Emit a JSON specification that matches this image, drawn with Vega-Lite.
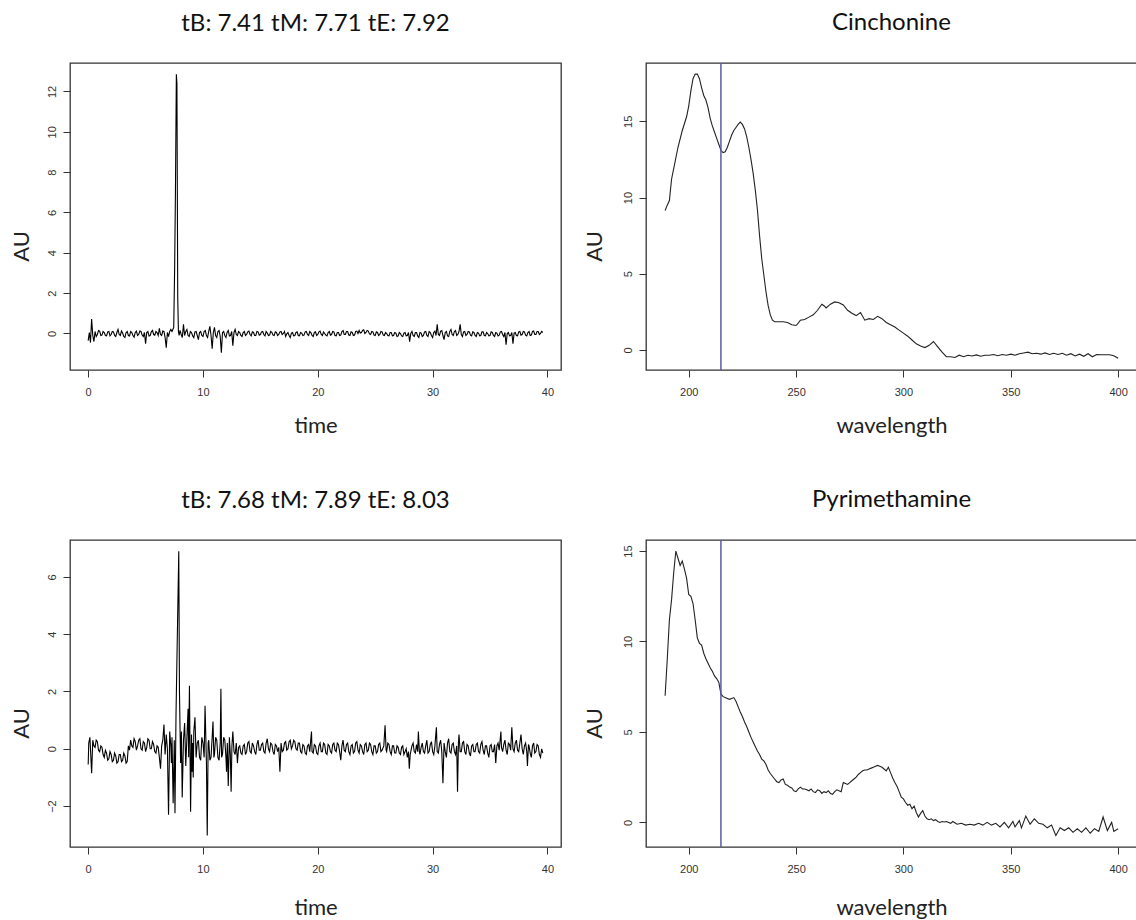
{
  "$schema": "https://vega.github.io/schema/vega-lite/v6.json",
  "background": "white",
  "padding": {"left": 9, "top": 10, "right": 0, "bottom": 0},
  "columns": 2,
  "spacing": {"row": 170, "column": 85},
  "bounds": "flush",
  "datasets": {
    "chromA": [
      {"t":0.0,"au":-0.35},{"t":0.1,"au":0.05},{"t":0.2,"au":-0.45},{"t":0.3,"au":0.72},{"t":0.4,"au":-0.1},{"t":0.5,"au":-0.4},{"t":0.6,"au":0.1},{"t":0.7,"au":-0.15},{"t":0.8,"au":-0.05},{"t":0.9,"au":0.15},{"t":1.0,"au":0.12},{"t":1.1,"au":-0.1},{"t":1.2,"au":-0.08},{"t":1.3,"au":0.1},{"t":1.4,"au":0.05},{"t":1.5,"au":-0.1},{"t":1.6,"au":-0.12},{"t":1.7,"au":0.08},{"t":1.8,"au":0.1},{"t":1.9,"au":-0.12},{"t":2.0,"au":-0.05},{"t":2.1,"au":0.1},{"t":2.2,"au":0.08},{"t":2.3,"au":-0.1},{"t":2.4,"au":-0.15},{"t":2.5,"au":0.05},{"t":2.6,"au":0.2},{"t":2.7,"au":-0.05},{"t":2.8,"au":-0.1},{"t":2.9,"au":0.12},{"t":3.0,"au":0.02},{"t":3.1,"au":-0.15},{"t":3.2,"au":-0.2},{"t":3.3,"au":0.05},{"t":3.4,"au":0.1},{"t":3.5,"au":-0.1},{"t":3.6,"au":-0.12},{"t":3.7,"au":0.1},{"t":3.8,"au":0.05},{"t":3.9,"au":-0.1},{"t":4.0,"au":-0.18},{"t":4.1,"au":0.05},{"t":4.2,"au":0.12},{"t":4.3,"au":-0.1},{"t":4.4,"au":-0.05},{"t":4.5,"au":0.12},{"t":4.6,"au":0.1},{"t":4.7,"au":-0.08},{"t":4.8,"au":-0.15},{"t":4.9,"au":0.05},{"t":5.0,"au":-0.5},{"t":5.1,"au":0.05},{"t":5.2,"au":0.1},{"t":5.3,"au":-0.12},{"t":5.4,"au":-0.1},{"t":5.5,"au":0.08},{"t":5.6,"au":0.15},{"t":5.7,"au":-0.05},{"t":5.8,"au":-0.08},{"t":5.9,"au":0.1},{"t":6.0,"au":0.05},{"t":6.1,"au":-0.1},{"t":6.2,"au":0.25},{"t":6.3,"au":-0.05},{"t":6.4,"au":-0.1},{"t":6.5,"au":0.12},{"t":6.6,"au":0.1},{"t":6.7,"au":-0.2},{"t":6.8,"au":-0.7},{"t":6.9,"au":0.05},{"t":7.0,"au":-0.15},{"t":7.1,"au":0.1},{"t":7.2,"au":0.2},{"t":7.3,"au":0.1},{"t":7.41,"au":0.25},{"t":7.45,"au":0.3},{"t":7.53,"au":3.2},{"t":7.6,"au":7.0},{"t":7.68,"au":12.85},{"t":7.73,"au":12.4},{"t":7.8,"au":1.8},{"t":7.86,"au":0.1},{"t":7.92,"au":-0.1},{"t":8.0,"au":0.15},{"t":8.1,"au":-0.05},{"t":8.2,"au":-0.2},{"t":8.3,"au":0.45},{"t":8.4,"au":-0.1},{"t":8.5,"au":0.1},{"t":8.6,"au":0.2},{"t":8.7,"au":-0.1},{"t":8.8,"au":-0.15},{"t":8.9,"au":0.1},{"t":9.0,"au":0.05},{"t":9.1,"au":-0.12},{"t":9.2,"au":-0.2},{"t":9.3,"au":0.08},{"t":9.4,"au":0.1},{"t":9.5,"au":-0.1},{"t":9.6,"au":-0.3},{"t":9.7,"au":0.05},{"t":9.8,"au":0.1},{"t":9.9,"au":-0.1},{"t":10.0,"au":-0.15},{"t":10.1,"au":0.1},{"t":10.2,"au":0.15},{"t":10.3,"au":-0.1},{"t":10.4,"au":-0.2},{"t":10.5,"au":0.1},{"t":10.6,"au":0.35},{"t":10.7,"au":-0.1},{"t":10.8,"au":-0.75},{"t":10.9,"au":0.05},{"t":11.0,"au":0.3},{"t":11.1,"au":-0.1},{"t":11.2,"au":-0.2},{"t":11.3,"au":0.1},{"t":11.4,"au":0.15},{"t":11.5,"au":-0.15},{"t":11.6,"au":-0.95},{"t":11.7,"au":0.05},{"t":11.8,"au":0.1},{"t":11.9,"au":-0.1},{"t":12.0,"au":-0.2},{"t":12.1,"au":0.05},{"t":12.2,"au":0.15},{"t":12.3,"au":-0.12},{"t":12.4,"au":-0.1},{"t":12.5,"au":0.1},{"t":12.6,"au":-0.6},{"t":12.7,"au":0.05},{"t":12.8,"au":0.2},{"t":12.9,"au":-0.05},{"t":13.0,"au":-0.1},{"t":13.1,"au":0.1},{"t":13.2,"au":0.05},{"t":13.3,"au":-0.1},{"t":13.4,"au":-0.15},{"t":13.5,"au":0.05},{"t":13.6,"au":0.1},{"t":13.7,"au":-0.1},{"t":13.8,"au":-0.05},{"t":13.9,"au":0.08},{"t":14.0,"au":0.12},{"t":14.1,"au":-0.05},{"t":14.2,"au":-0.12},{"t":14.3,"au":0.08},{"t":14.4,"au":0.05},{"t":14.5,"au":-0.1},{"t":14.6,"au":-0.1},{"t":14.7,"au":0.1},{"t":14.8,"au":0.08},{"t":14.9,"au":-0.08},{"t":15.0,"au":-0.05},{"t":15.1,"au":0.08},{"t":15.2,"au":0.1},{"t":15.3,"au":-0.05},{"t":15.4,"au":-0.12},{"t":15.5,"au":0.1},{"t":15.6,"au":0.02},{"t":15.7,"au":-0.1},{"t":15.8,"au":-0.08},{"t":15.9,"au":0.1},{"t":16.0,"au":0.06},{"t":16.1,"au":-0.08},{"t":16.2,"au":-0.1},{"t":16.3,"au":0.08},{"t":16.4,"au":0.05},{"t":16.5,"au":-0.1},{"t":16.6,"au":-0.05},{"t":16.7,"au":0.08},{"t":16.8,"au":0.1},{"t":16.9,"au":-0.05},{"t":17.0,"au":0.0},{"t":17.1,"au":0.1},{"t":17.2,"au":-0.15},{"t":17.3,"au":-0.02},{"t":17.4,"au":0.05},{"t":17.5,"au":-0.1},{"t":17.6,"au":-0.2},{"t":17.7,"au":0.02},{"t":17.8,"au":0.05},{"t":17.9,"au":-0.12},{"t":18.0,"au":-0.1},{"t":18.1,"au":0.05},{"t":18.2,"au":0.08},{"t":18.3,"au":-0.1},{"t":18.4,"au":-0.12},{"t":18.5,"au":0.05},{"t":18.6,"au":0.02},{"t":18.7,"au":-0.1},{"t":18.8,"au":-0.08},{"t":18.9,"au":0.08},{"t":19.0,"au":0.1},{"t":19.1,"au":-0.05},{"t":19.2,"au":-0.1},{"t":19.3,"au":0.1},{"t":19.4,"au":0.05},{"t":19.5,"au":-0.1},{"t":19.6,"au":-0.15},{"t":19.7,"au":0.05},{"t":19.8,"au":0.08},{"t":19.9,"au":-0.1},{"t":20.0,"au":-0.05},{"t":20.1,"au":0.08},{"t":20.2,"au":0.12},{"t":20.3,"au":-0.05},{"t":20.4,"au":-0.1},{"t":20.5,"au":0.08},{"t":20.6,"au":0.0},{"t":20.7,"au":-0.08},{"t":20.8,"au":-0.12},{"t":20.9,"au":0.05},{"t":21.0,"au":0.1},{"t":21.1,"au":-0.08},{"t":21.2,"au":-0.05},{"t":21.3,"au":0.1},{"t":21.4,"au":0.08},{"t":21.5,"au":-0.1},{"t":21.6,"au":-0.12},{"t":21.7,"au":0.05},{"t":21.8,"au":0.05},{"t":21.9,"au":-0.1},{"t":22.0,"au":-0.08},{"t":22.1,"au":0.1},{"t":22.2,"au":0.15},{"t":22.3,"au":-0.05},{"t":22.4,"au":-0.05},{"t":22.5,"au":0.1},{"t":22.6,"au":0.1},{"t":22.7,"au":-0.08},{"t":22.8,"au":-0.1},{"t":22.9,"au":0.08},{"t":23.0,"au":0.05},{"t":23.1,"au":-0.1},{"t":23.2,"au":-0.08},{"t":23.3,"au":0.1},{"t":23.4,"au":0.12},{"t":23.5,"au":0.0},{"t":23.6,"au":0.15},{"t":23.7,"au":0.02},{"t":23.8,"au":0.05},{"t":23.9,"au":0.15},{"t":24.0,"au":0.18},{"t":24.1,"au":0.0},{"t":24.2,"au":0.05},{"t":24.3,"au":0.15},{"t":24.4,"au":0.12},{"t":24.5,"au":-0.02},{"t":24.6,"au":-0.05},{"t":24.7,"au":0.1},{"t":24.8,"au":0.08},{"t":24.9,"au":-0.08},{"t":25.0,"au":-0.1},{"t":25.1,"au":0.08},{"t":25.2,"au":0.05},{"t":25.3,"au":-0.1},{"t":25.4,"au":-0.05},{"t":25.5,"au":0.1},{"t":25.6,"au":0.08},{"t":25.7,"au":-0.08},{"t":25.8,"au":-0.1},{"t":25.9,"au":0.05},{"t":26.0,"au":0.0},{"t":26.1,"au":-0.1},{"t":26.2,"au":-0.12},{"t":26.3,"au":0.05},{"t":26.4,"au":0.05},{"t":26.5,"au":-0.12},{"t":26.6,"au":-0.1},{"t":26.7,"au":0.05},{"t":26.8,"au":0.02},{"t":26.9,"au":-0.15},{"t":27.0,"au":-0.12},{"t":27.1,"au":0.05},{"t":27.2,"au":0.0},{"t":27.3,"au":-0.12},{"t":27.4,"au":-0.15},{"t":27.5,"au":0.02},{"t":27.6,"au":0.05},{"t":27.7,"au":-0.12},{"t":27.8,"au":-0.1},{"t":27.9,"au":0.05},{"t":28.0,"au":-0.4},{"t":28.1,"au":0.0},{"t":28.2,"au":0.1},{"t":28.3,"au":-0.1},{"t":28.4,"au":-0.15},{"t":28.5,"au":0.05},{"t":28.6,"au":0.05},{"t":28.7,"au":-0.12},{"t":28.8,"au":-0.2},{"t":28.9,"au":0.05},{"t":29.0,"au":0.02},{"t":29.1,"au":-0.15},{"t":29.2,"au":-0.1},{"t":29.3,"au":0.08},{"t":29.4,"au":0.1},{"t":29.5,"au":-0.1},{"t":29.6,"au":-0.15},{"t":29.7,"au":0.1},{"t":29.8,"au":0.05},{"t":29.9,"au":-0.1},{"t":30.0,"au":-0.2},{"t":30.1,"au":0.05},{"t":30.2,"au":0.12},{"t":30.3,"au":-0.1},{"t":30.4,"au":0.45},{"t":30.5,"au":-0.05},{"t":30.6,"au":-0.1},{"t":30.7,"au":0.12},{"t":30.8,"au":0.15},{"t":30.9,"au":-0.1},{"t":31.0,"au":-0.3},{"t":31.1,"au":0.05},{"t":31.2,"au":0.1},{"t":31.3,"au":-0.12},{"t":31.4,"au":-0.15},{"t":31.5,"au":0.1},{"t":31.6,"au":0.2},{"t":31.7,"au":-0.05},{"t":31.8,"au":-0.1},{"t":31.9,"au":0.1},{"t":32.0,"au":0.15},{"t":32.1,"au":-0.1},{"t":32.2,"au":-0.05},{"t":32.3,"au":0.1},{"t":32.4,"au":0.45},{"t":32.5,"au":-0.05},{"t":32.6,"au":-0.15},{"t":32.7,"au":0.08},{"t":32.8,"au":0.1},{"t":32.9,"au":-0.1},{"t":33.0,"au":-0.05},{"t":33.1,"au":0.1},{"t":33.2,"au":0.08},{"t":33.3,"au":-0.08},{"t":33.4,"au":-0.12},{"t":33.5,"au":0.08},{"t":33.6,"au":0.05},{"t":33.7,"au":-0.1},{"t":33.8,"au":-0.15},{"t":33.9,"au":0.05},{"t":34.0,"au":0.02},{"t":34.1,"au":-0.12},{"t":34.2,"au":-0.1},{"t":34.3,"au":0.08},{"t":34.4,"au":0.08},{"t":34.5,"au":-0.1},{"t":34.6,"au":-0.12},{"t":34.7,"au":0.05},{"t":34.8,"au":0.0},{"t":34.9,"au":-0.12},{"t":35.0,"au":-0.1},{"t":35.1,"au":0.08},{"t":35.2,"au":0.05},{"t":35.3,"au":-0.1},{"t":35.4,"au":-0.15},{"t":35.5,"au":0.05},{"t":35.6,"au":0.02},{"t":35.7,"au":-0.12},{"t":35.8,"au":-0.08},{"t":35.9,"au":0.08},{"t":36.0,"au":0.1},{"t":36.1,"au":-0.05},{"t":36.2,"au":-0.15},{"t":36.3,"au":0.05},{"t":36.4,"au":-0.55},{"t":36.5,"au":0.0},{"t":36.6,"au":0.05},{"t":36.7,"au":-0.12},{"t":36.8,"au":-0.1},{"t":36.9,"au":0.05},{"t":37.0,"au":-0.5},{"t":37.1,"au":0.02},{"t":37.2,"au":0.05},{"t":37.3,"au":-0.1},{"t":37.4,"au":-0.12},{"t":37.5,"au":0.08},{"t":37.6,"au":0.1},{"t":37.7,"au":-0.08},{"t":37.8,"au":-0.05},{"t":37.9,"au":0.1},{"t":38.0,"au":0.08},{"t":38.1,"au":-0.08},{"t":38.2,"au":-0.12},{"t":38.3,"au":0.05},{"t":38.4,"au":0.1},{"t":38.5,"au":-0.1},{"t":38.6,"au":-0.08},{"t":38.7,"au":0.1},{"t":38.8,"au":0.12},{"t":38.9,"au":-0.05},{"t":39.0,"au":-0.05},{"t":39.1,"au":0.1},{"t":39.2,"au":0.1},{"t":39.3,"au":-0.05},{"t":39.4,"au":0.0},{"t":39.5,"au":0.1},{"t":39.6,"au":0.05}
    ],
    "chromB": [
      {"t":0.0,"au":-0.55},{"t":0.05,"au":0.2},{"t":0.15,"au":0.4},{"t":0.3,"au":-0.85},{"t":0.4,"au":0.3},{"t":0.5,"au":0.1},{"t":0.6,"au":0.05},{"t":0.7,"au":0.3},{"t":0.8,"au":0.25},{"t":0.9,"au":-0.05},{"t":1.0,"au":-0.1},{"t":1.1,"au":0.1},{"t":1.2,"au":0.05},{"t":1.3,"au":-0.2},{"t":1.4,"au":-0.3},{"t":1.5,"au":-0.05},{"t":1.6,"au":-0.15},{"t":1.7,"au":-0.4},{"t":1.8,"au":-0.35},{"t":1.9,"au":-0.1},{"t":2.0,"au":-0.2},{"t":2.1,"au":-0.45},{"t":2.2,"au":-0.4},{"t":2.3,"au":-0.15},{"t":2.4,"au":-0.25},{"t":2.5,"au":-0.5},{"t":2.6,"au":-0.45},{"t":2.7,"au":-0.2},{"t":2.8,"au":-0.2},{"t":2.9,"au":-0.45},{"t":3.0,"au":-0.4},{"t":3.1,"au":-0.15},{"t":3.2,"au":-0.25},{"t":3.3,"au":-0.5},{"t":3.4,"au":-0.45},{"t":3.5,"au":0.1},{"t":3.6,"au":-0.05},{"t":3.7,"au":0.3},{"t":3.8,"au":0.1},{"t":3.9,"au":0.05},{"t":4.0,"au":0.35},{"t":4.1,"au":0.25},{"t":4.2,"au":-0.05},{"t":4.3,"au":0.1},{"t":4.4,"au":0.3},{"t":4.5,"au":0.35},{"t":4.6,"au":0.0},{"t":4.7,"au":-0.05},{"t":4.8,"au":0.25},{"t":4.9,"au":0.2},{"t":5.0,"au":-0.1},{"t":5.1,"au":0.05},{"t":5.2,"au":0.35},{"t":5.3,"au":0.3},{"t":5.4,"au":0.0},{"t":5.5,"au":0.0},{"t":5.6,"au":0.25},{"t":5.7,"au":0.15},{"t":5.8,"au":-0.1},{"t":5.9,"au":-0.15},{"t":6.0,"au":0.1},{"t":6.1,"au":0.05},{"t":6.2,"au":-0.3},{"t":6.3,"au":-0.7},{"t":6.4,"au":0.1},{"t":6.5,"au":0.3},{"t":6.6,"au":0.85},{"t":6.7,"au":-0.2},{"t":6.8,"au":0.5},{"t":6.9,"au":0.0},{"t":7.0,"au":-2.3},{"t":7.1,"au":0.6},{"t":7.2,"au":0.1},{"t":7.25,"au":-0.5},{"t":7.3,"au":0.4},{"t":7.4,"au":-1.9},{"t":7.5,"au":0.3},{"t":7.56,"au":-2.25},{"t":7.65,"au":1.2},{"t":7.78,"au":4.3},{"t":7.89,"au":6.9},{"t":7.95,"au":2.0},{"t":8.05,"au":-0.5},{"t":8.12,"au":0.6},{"t":8.19,"au":-1.7},{"t":8.3,"au":0.3},{"t":8.4,"au":0.9},{"t":8.5,"au":-0.6},{"t":8.6,"au":0.4},{"t":8.7,"au":1.4},{"t":8.75,"au":-0.3},{"t":8.82,"au":2.2},{"t":8.92,"au":-2.2},{"t":9.0,"au":0.5},{"t":9.05,"au":-0.8},{"t":9.1,"au":0.2},{"t":9.15,"au":-1.0},{"t":9.2,"au":0.6},{"t":9.3,"au":1.1},{"t":9.4,"au":-0.3},{"t":9.5,"au":0.2},{"t":9.6,"au":0.3},{"t":9.7,"au":-0.3},{"t":9.8,"au":-0.4},{"t":9.9,"au":0.4},{"t":10.0,"au":0.2},{"t":10.1,"au":-0.3},{"t":10.18,"au":1.5},{"t":10.3,"au":-0.5},{"t":10.37,"au":-3.03},{"t":10.45,"au":0.2},{"t":10.5,"au":0.3},{"t":10.6,"au":-0.4},{"t":10.7,"au":-0.3},{"t":10.8,"au":0.4},{"t":10.87,"au":0.95},{"t":10.95,"au":-0.3},{"t":11.0,"au":-0.2},{"t":11.1,"au":0.4},{"t":11.2,"au":0.3},{"t":11.3,"au":-0.3},{"t":11.4,"au":-0.4},{"t":11.5,"au":0.2},{"t":11.56,"au":2.1},{"t":11.62,"au":-0.3},{"t":11.7,"au":-0.2},{"t":11.8,"au":0.4},{"t":11.9,"au":0.3},{"t":12.0,"au":-0.3},{"t":12.05,"au":-0.8},{"t":12.12,"au":0.2},{"t":12.2,"au":-1.3},{"t":12.3,"au":0.4},{"t":12.38,"au":-0.2},{"t":12.45,"au":-1.5},{"t":12.52,"au":0.1},{"t":12.6,"au":0.6},{"t":12.7,"au":-0.1},{"t":12.8,"au":-0.2},{"t":12.9,"au":0.2},{"t":13.0,"au":-0.5},{"t":13.1,"au":0.05},{"t":13.2,"au":0.1},{"t":13.3,"au":-0.15},{"t":13.4,"au":-0.2},{"t":13.5,"au":0.1},{"t":13.6,"au":0.15},{"t":13.7,"au":-0.2},{"t":13.8,"au":-0.1},{"t":13.9,"au":0.2},{"t":14.0,"au":0.25},{"t":14.1,"au":-0.1},{"t":14.2,"au":-0.15},{"t":14.3,"au":0.2},{"t":14.4,"au":0.1},{"t":14.5,"au":-0.1},{"t":14.6,"au":-0.2},{"t":14.7,"au":0.15},{"t":14.8,"au":0.3},{"t":14.9,"au":-0.05},{"t":15.0,"au":-0.05},{"t":15.1,"au":0.15},{"t":15.2,"au":0.2},{"t":15.3,"au":-0.1},{"t":15.4,"au":-0.15},{"t":15.5,"au":0.2},{"t":15.6,"au":0.35},{"t":15.7,"au":0.0},{"t":15.8,"au":-0.1},{"t":15.9,"au":0.2},{"t":16.0,"au":0.15},{"t":16.1,"au":-0.1},{"t":16.2,"au":-0.2},{"t":16.3,"au":0.15},{"t":16.4,"au":0.1},{"t":16.5,"au":-0.1},{"t":16.6,"au":0.05},{"t":16.7,"au":-0.8},{"t":16.8,"au":0.2},{"t":16.9,"au":-0.1},{"t":17.0,"au":-0.05},{"t":17.1,"au":0.2},{"t":17.2,"au":0.25},{"t":17.3,"au":-0.05},{"t":17.4,"au":0.0},{"t":17.5,"au":0.25},{"t":17.6,"au":0.3},{"t":17.7,"au":0.0},{"t":17.8,"au":0.1},{"t":17.9,"au":0.3},{"t":18.0,"au":0.25},{"t":18.1,"au":0.0},{"t":18.2,"au":-0.05},{"t":18.3,"au":0.2},{"t":18.4,"au":0.2},{"t":18.5,"au":-0.1},{"t":18.6,"au":-0.15},{"t":18.7,"au":0.15},{"t":18.8,"au":0.1},{"t":18.9,"au":-0.15},{"t":19.0,"au":-0.2},{"t":19.1,"au":0.1},{"t":19.2,"au":0.15},{"t":19.3,"au":-0.1},{"t":19.45,"au":0.6},{"t":19.5,"au":-0.1},{"t":19.6,"au":-0.15},{"t":19.7,"au":0.15},{"t":19.8,"au":0.1},{"t":19.9,"au":-0.15},{"t":20.0,"au":-0.2},{"t":20.1,"au":0.1},{"t":20.2,"au":0.2},{"t":20.3,"au":-0.1},{"t":20.4,"au":-0.1},{"t":20.5,"au":0.2},{"t":20.6,"au":0.15},{"t":20.7,"au":-0.15},{"t":20.8,"au":-0.2},{"t":20.9,"au":0.15},{"t":21.0,"au":0.1},{"t":21.1,"au":-0.1},{"t":21.2,"au":-0.15},{"t":21.3,"au":0.15},{"t":21.4,"au":0.2},{"t":21.5,"au":-0.05},{"t":21.6,"au":-0.1},{"t":21.7,"au":0.2},{"t":21.8,"au":0.15},{"t":21.9,"au":-0.1},{"t":22.0,"au":-0.4},{"t":22.1,"au":0.1},{"t":22.2,"au":0.3},{"t":22.3,"au":-0.05},{"t":22.4,"au":-0.1},{"t":22.5,"au":0.15},{"t":22.6,"au":0.2},{"t":22.7,"au":-0.1},{"t":22.8,"au":-0.2},{"t":22.9,"au":0.1},{"t":23.0,"au":0.15},{"t":23.1,"au":-0.15},{"t":23.2,"au":-0.1},{"t":23.3,"au":0.2},{"t":23.4,"au":0.25},{"t":23.5,"au":-0.05},{"t":23.6,"au":-0.15},{"t":23.7,"au":0.15},{"t":23.8,"au":0.1},{"t":23.9,"au":-0.1},{"t":24.0,"au":-0.2},{"t":24.1,"au":0.15},{"t":24.2,"au":0.2},{"t":24.3,"au":-0.1},{"t":24.4,"au":-0.05},{"t":24.5,"au":0.2},{"t":24.6,"au":0.15},{"t":24.7,"au":-0.1},{"t":24.8,"au":-0.2},{"t":24.9,"au":0.1},{"t":25.0,"au":0.1},{"t":25.1,"au":-0.15},{"t":25.2,"au":-0.1},{"t":25.3,"au":0.15},{"t":25.4,"au":0.2},{"t":25.5,"au":-0.1},{"t":25.6,"au":-0.05},{"t":25.75,"au":0.1},{"t":25.86,"au":0.82},{"t":25.95,"au":-0.05},{"t":26.0,"au":-0.1},{"t":26.1,"au":0.2},{"t":26.2,"au":0.15},{"t":26.3,"au":-0.1},{"t":26.4,"au":-0.2},{"t":26.5,"au":0.1},{"t":26.6,"au":0.1},{"t":26.7,"au":-0.15},{"t":26.8,"au":-0.15},{"t":26.9,"au":0.1},{"t":27.0,"au":0.05},{"t":27.1,"au":-0.15},{"t":27.2,"au":-0.2},{"t":27.3,"au":0.05},{"t":27.4,"au":0.1},{"t":27.5,"au":-0.2},{"t":27.6,"au":-0.1},{"t":27.7,"au":0.0},{"t":27.8,"au":-0.3},{"t":27.9,"au":-0.1},{"t":27.97,"au":-0.7},{"t":28.05,"au":-0.2},{"t":28.1,"au":-0.1},{"t":28.2,"au":0.1},{"t":28.3,"au":0.2},{"t":28.4,"au":-0.1},{"t":28.5,"au":-0.15},{"t":28.6,"au":0.15},{"t":28.7,"au":-0.1},{"t":28.76,"au":0.6},{"t":28.85,"au":-0.1},{"t":28.9,"au":-0.2},{"t":29.0,"au":0.05},{"t":29.1,"au":0.2},{"t":29.2,"au":-0.1},{"t":29.3,"au":-0.15},{"t":29.4,"au":0.1},{"t":29.5,"au":0.3},{"t":29.6,"au":-0.15},{"t":29.7,"au":-0.1},{"t":29.8,"au":0.15},{"t":29.9,"au":0.25},{"t":30.0,"au":-0.1},{"t":30.1,"au":-0.2},{"t":30.2,"au":0.1},{"t":30.33,"au":0.75},{"t":30.4,"au":-0.1},{"t":30.5,"au":-0.15},{"t":30.6,"au":0.15},{"t":30.7,"au":0.3},{"t":30.8,"au":-0.1},{"t":30.9,"au":-1.2},{"t":31.0,"au":0.2},{"t":31.1,"au":-0.1},{"t":31.2,"au":-0.3},{"t":31.3,"au":0.2},{"t":31.4,"au":0.35},{"t":31.5,"au":-0.1},{"t":31.6,"au":-0.15},{"t":31.7,"au":0.15},{"t":31.8,"au":0.2},{"t":31.9,"au":-0.1},{"t":32.0,"au":-0.2},{"t":32.1,"au":0.1},{"t":32.17,"au":-1.5},{"t":32.25,"au":0.2},{"t":32.3,"au":0.5},{"t":32.4,"au":-0.1},{"t":32.5,"au":-0.1},{"t":32.6,"au":0.2},{"t":32.7,"au":0.25},{"t":32.8,"au":-0.1},{"t":32.9,"au":-0.2},{"t":33.0,"au":0.15},{"t":33.1,"au":0.1},{"t":33.2,"au":-0.15},{"t":33.3,"au":-0.25},{"t":33.4,"au":0.1},{"t":33.5,"au":0.15},{"t":33.6,"au":-0.1},{"t":33.7,"au":-0.1},{"t":33.8,"au":0.15},{"t":33.9,"au":0.2},{"t":34.0,"au":-0.1},{"t":34.1,"au":-0.15},{"t":34.2,"au":0.15},{"t":34.3,"au":0.25},{"t":34.4,"au":-0.05},{"t":34.5,"au":-0.2},{"t":34.6,"au":0.1},{"t":34.7,"au":0.1},{"t":34.8,"au":-0.15},{"t":34.9,"au":-0.3},{"t":35.0,"au":0.1},{"t":35.1,"au":0.15},{"t":35.2,"au":-0.1},{"t":35.3,"au":-0.1},{"t":35.4,"au":0.15},{"t":35.5,"au":-0.5},{"t":35.6,"au":0.1},{"t":35.7,"au":0.2},{"t":35.8,"au":-0.05},{"t":35.95,"au":0.6},{"t":36.0,"au":0.05},{"t":36.1,"au":-0.1},{"t":36.2,"au":0.15},{"t":36.3,"au":0.3},{"t":36.4,"au":-0.05},{"t":36.5,"au":-0.2},{"t":36.6,"au":0.2},{"t":36.7,"au":0.15},{"t":36.8,"au":-0.05},{"t":36.9,"au":0.75},{"t":37.0,"au":0.0},{"t":37.1,"au":-0.1},{"t":37.2,"au":0.2},{"t":37.3,"au":0.3},{"t":37.4,"au":-0.05},{"t":37.5,"au":-0.1},{"t":37.6,"au":0.2},{"t":37.7,"au":0.5},{"t":37.8,"au":0.0},{"t":37.9,"au":-0.2},{"t":38.0,"au":0.1},{"t":38.1,"au":0.2},{"t":38.2,"au":-0.1},{"t":38.26,"au":-0.6},{"t":38.35,"au":0.15},{"t":38.4,"au":0.1},{"t":38.5,"au":-0.15},{"t":38.6,"au":-0.3},{"t":38.7,"au":0.1},{"t":38.8,"au":0.2},{"t":38.9,"au":-0.15},{"t":39.0,"au":-0.1},{"t":39.1,"au":0.15},{"t":39.2,"au":0.1},{"t":39.3,"au":-0.2},{"t":39.4,"au":-0.3},{"t":39.5,"au":0.0},{"t":39.6,"au":-0.15}
    ],
    "cinchonine": [
      {"wl":189,"au":9.15},{"wl":190,"au":9.5},{"wl":191,"au":9.8},{"wl":192,"au":11.2},{"wl":193,"au":11.9},{"wl":195,"au":13.3},{"wl":197,"au":14.4},{"wl":199,"au":15.3},{"wl":200,"au":16.0},{"wl":201,"au":17.0},{"wl":202,"au":17.8},{"wl":203,"au":18.1},{"wl":204,"au":18.1},{"wl":205,"au":17.8},{"wl":206,"au":17.2},{"wl":207,"au":16.7},{"wl":208,"au":16.4},{"wl":209,"au":15.9},{"wl":210,"au":15.2},{"wl":211,"au":14.7},{"wl":212,"au":14.3},{"wl":213,"au":13.9},{"wl":214,"au":13.5},{"wl":215,"au":13.1},{"wl":216,"au":12.95},{"wl":217,"au":13.0},{"wl":218,"au":13.3},{"wl":219,"au":13.7},{"wl":220,"au":14.1},{"wl":221,"au":14.4},{"wl":222,"au":14.6},{"wl":223,"au":14.8},{"wl":224,"au":14.95},{"wl":225,"au":14.8},{"wl":226,"au":14.5},{"wl":227,"au":14.0},{"wl":228,"au":13.3},{"wl":229,"au":12.5},{"wl":230,"au":11.6},{"wl":231,"au":10.5},{"wl":232,"au":9.2},{"wl":233,"au":7.5},{"wl":234,"au":6.0},{"wl":235,"au":4.9},{"wl":236,"au":3.8},{"wl":237,"au":2.9},{"wl":238,"au":2.3},{"wl":239,"au":1.95},{"wl":240,"au":1.85},{"wl":242,"au":1.85},{"wl":244,"au":1.85},{"wl":246,"au":1.8},{"wl":248,"au":1.65},{"wl":250,"au":1.6},{"wl":251,"au":1.75},{"wl":252,"au":1.95},{"wl":254,"au":2.0},{"wl":256,"au":2.15},{"wl":258,"au":2.3},{"wl":260,"au":2.6},{"wl":262,"au":3.0},{"wl":263,"au":2.9},{"wl":264,"au":2.75},{"wl":266,"au":3.0},{"wl":268,"au":3.15},{"wl":270,"au":3.1},{"wl":272,"au":2.95},{"wl":274,"au":2.6},{"wl":276,"au":2.4},{"wl":278,"au":2.25},{"wl":280,"au":2.45},{"wl":282,"au":1.95},{"wl":284,"au":2.05},{"wl":286,"au":2.0},{"wl":288,"au":2.2},{"wl":290,"au":2.05},{"wl":292,"au":1.8},{"wl":294,"au":1.65},{"wl":296,"au":1.5},{"wl":298,"au":1.3},{"wl":300,"au":1.1},{"wl":302,"au":0.9},{"wl":304,"au":0.65},{"wl":306,"au":0.4},{"wl":308,"au":0.25},{"wl":310,"au":0.15},{"wl":312,"au":0.3},{"wl":314,"au":0.55},{"wl":316,"au":0.2},{"wl":318,"au":-0.15},{"wl":320,"au":-0.45},{"wl":322,"au":-0.45},{"wl":324,"au":-0.5},{"wl":326,"au":-0.35},{"wl":328,"au":-0.45},{"wl":330,"au":-0.35},{"wl":332,"au":-0.4},{"wl":334,"au":-0.33},{"wl":336,"au":-0.42},{"wl":338,"au":-0.35},{"wl":340,"au":-0.35},{"wl":342,"au":-0.3},{"wl":344,"au":-0.38},{"wl":346,"au":-0.3},{"wl":348,"au":-0.35},{"wl":350,"au":-0.28},{"wl":352,"au":-0.35},{"wl":354,"au":-0.25},{"wl":356,"au":-0.2},{"wl":358,"au":-0.15},{"wl":360,"au":-0.25},{"wl":362,"au":-0.22},{"wl":364,"au":-0.28},{"wl":366,"au":-0.2},{"wl":368,"au":-0.3},{"wl":370,"au":-0.22},{"wl":372,"au":-0.3},{"wl":374,"au":-0.22},{"wl":376,"au":-0.35},{"wl":378,"au":-0.25},{"wl":380,"au":-0.4},{"wl":382,"au":-0.28},{"wl":384,"au":-0.42},{"wl":386,"au":-0.25},{"wl":388,"au":-0.45},{"wl":390,"au":-0.3},{"wl":392,"au":-0.32},{"wl":394,"au":-0.32},{"wl":396,"au":-0.32},{"wl":398,"au":-0.38},{"wl":400,"au":-0.55}
    ],
    "pyrimethamine": [
      {"wl":189,"au":7.0},{"wl":190,"au":9.0},{"wl":191,"au":11.2},{"wl":192,"au":12.3},{"wl":193,"au":13.8},{"wl":194,"au":15.0},{"wl":195,"au":14.6},{"wl":196,"au":14.2},{"wl":197,"au":14.45},{"wl":198,"au":14.0},{"wl":199,"au":13.5},{"wl":200,"au":12.6},{"wl":201,"au":12.5},{"wl":202,"au":12.1},{"wl":203,"au":11.2},{"wl":204,"au":10.2},{"wl":205,"au":9.9},{"wl":206,"au":9.8},{"wl":207,"au":9.35},{"wl":208,"au":9.05},{"wl":209,"au":8.8},{"wl":210,"au":8.55},{"wl":211,"au":8.35},{"wl":212,"au":8.1},{"wl":213,"au":7.95},{"wl":214,"au":7.75},{"wl":215,"au":7.1},{"wl":216,"au":6.95},{"wl":217,"au":6.9},{"wl":218,"au":6.85},{"wl":219,"au":6.8},{"wl":220,"au":6.85},{"wl":221,"au":6.9},{"wl":222,"au":6.7},{"wl":223,"au":6.4},{"wl":224,"au":6.1},{"wl":225,"au":5.85},{"wl":226,"au":5.55},{"wl":227,"au":5.3},{"wl":228,"au":5.0},{"wl":229,"au":4.7},{"wl":230,"au":4.45},{"wl":231,"au":4.2},{"wl":232,"au":3.95},{"wl":233,"au":3.75},{"wl":234,"au":3.5},{"wl":235,"au":3.4},{"wl":236,"au":3.2},{"wl":237,"au":2.9},{"wl":238,"au":2.7},{"wl":239,"au":2.55},{"wl":240,"au":2.4},{"wl":241,"au":2.25},{"wl":242,"au":2.2},{"wl":243,"au":2.35},{"wl":244,"au":2.4},{"wl":245,"au":2.1},{"wl":246,"au":2.05},{"wl":247,"au":1.95},{"wl":248,"au":1.9},{"wl":249,"au":1.75},{"wl":250,"au":1.7},{"wl":251,"au":1.85},{"wl":252,"au":1.95},{"wl":253,"au":1.85},{"wl":254,"au":1.85},{"wl":255,"au":1.8},{"wl":256,"au":1.75},{"wl":257,"au":1.85},{"wl":258,"au":1.7},{"wl":259,"au":1.65},{"wl":260,"au":1.8},{"wl":261,"au":1.75},{"wl":262,"au":1.6},{"wl":263,"au":1.7},{"wl":264,"au":1.65},{"wl":265,"au":1.75},{"wl":266,"au":1.6},{"wl":267,"au":1.55},{"wl":268,"au":1.7},{"wl":269,"au":1.8},{"wl":270,"au":1.75},{"wl":271,"au":1.7},{"wl":272,"au":2.2},{"wl":273,"au":2.15},{"wl":274,"au":2.1},{"wl":275,"au":2.2},{"wl":276,"au":2.3},{"wl":277,"au":2.4},{"wl":278,"au":2.5},{"wl":279,"au":2.65},{"wl":280,"au":2.75},{"wl":281,"au":2.85},{"wl":282,"au":2.9},{"wl":283,"au":2.9},{"wl":284,"au":2.95},{"wl":285,"au":3.0},{"wl":286,"au":3.05},{"wl":287,"au":3.1},{"wl":288,"au":3.15},{"wl":289,"au":3.1},{"wl":290,"au":3.05},{"wl":291,"au":2.95},{"wl":292,"au":2.85},{"wl":293,"au":3.05},{"wl":294,"au":2.75},{"wl":295,"au":2.45},{"wl":296,"au":2.2},{"wl":297,"au":2.0},{"wl":298,"au":1.7},{"wl":299,"au":1.4},{"wl":300,"au":1.3},{"wl":301,"au":1.1},{"wl":302,"au":0.95},{"wl":303,"au":1.0},{"wl":304,"au":0.75},{"wl":305,"au":0.9},{"wl":306,"au":0.55},{"wl":307,"au":0.3},{"wl":308,"au":0.5},{"wl":309,"au":0.65},{"wl":310,"au":0.35},{"wl":311,"au":0.2},{"wl":312,"au":0.15},{"wl":313,"au":0.2},{"wl":314,"au":0.1},{"wl":315,"au":0.15},{"wl":316,"au":0.05},{"wl":317,"au":0.0},{"wl":318,"au":0.05},{"wl":319,"au":0.02},{"wl":320,"au":0.05},{"wl":322,"au":-0.05},{"wl":323,"au":0.05},{"wl":325,"au":-0.1},{"wl":327,"au":-0.05},{"wl":329,"au":-0.15},{"wl":331,"au":-0.1},{"wl":333,"au":-0.15},{"wl":335,"au":-0.05},{"wl":337,"au":-0.15},{"wl":339,"au":0.0},{"wl":341,"au":-0.15},{"wl":343,"au":-0.05},{"wl":345,"au":-0.25},{"wl":347,"au":0.0},{"wl":349,"au":-0.3},{"wl":351,"au":0.05},{"wl":352,"au":-0.25},{"wl":354,"au":0.1},{"wl":355,"au":-0.3},{"wl":357,"au":0.35},{"wl":359,"au":-0.1},{"wl":361,"au":0.2},{"wl":363,"au":-0.05},{"wl":365,"au":-0.1},{"wl":367,"au":-0.3},{"wl":369,"au":-0.15},{"wl":371,"au":-0.72},{"wl":373,"au":-0.3},{"wl":375,"au":-0.45},{"wl":377,"au":-0.3},{"wl":379,"au":-0.55},{"wl":381,"au":-0.35},{"wl":383,"au":-0.55},{"wl":385,"au":-0.3},{"wl":387,"au":-0.6},{"wl":389,"au":-0.35},{"wl":391,"au":-0.5},{"wl":393,"au":0.3},{"wl":395,"au":-0.45},{"wl":397,"au":0.0},{"wl":398,"au":-0.5},{"wl":400,"au":-0.35}
    ],
    "marker": [{"wl": 215}]
  },
  "concat": [
    {
      "width": 491, "height": 307,
      "title": {"text": "tB: 7.41  tM: 7.71  tE: 7.92", "offset": 27},
      "data": {"name": "chromA"},
      "mark": {"type": "line", "color": "#000", "strokeWidth": 1.1, "clip": true},
      "encoding": {
        "x": {"field": "t", "type": "quantitative", "scale": {"domain": [-1.584, 41.184], "nice": false, "zero": false},
              "axis": {"title": "time", "values": [0, 10, 20, 30, 40], "titleY": 55}},
        "y": {"field": "au", "type": "quantitative", "scale": {"domain": [-1.81, 13.41], "nice": false, "zero": false},
              "axis": {"title": "AU", "values": [0, 2, 4, 6, 8, 10, 12], "titleX": -48.5, "titleY": 183}}
      }
    },
    {
      "width": 491, "height": 307,
      "title": {"text": "Cinchonine", "offset": 27},
      "layer": [
        {
          "data": {"name": "cinchonine"},
          "mark": {"type": "line", "color": "#222", "strokeWidth": 1.1, "clip": true},
          "encoding": {
            "x": {"field": "wl", "type": "quantitative", "scale": {"domain": [180.1, 408.8], "nice": false, "zero": false},
                  "axis": {"title": "wavelength", "values": [200, 250, 300, 350, 400], "titleY": 55}},
            "y": {"field": "au", "type": "quantitative", "scale": {"domain": [-1.32, 18.83], "nice": false, "zero": false},
                  "axis": {"title": "AU", "values": [0, 5, 10, 15], "titleX": -51.5, "titleY": 183}}
          }
        },
        {
          "data": {"name": "marker"},
          "mark": {"type": "rule", "color": "#5a5aa6", "strokeWidth": 1.5},
          "encoding": {"x": {"field": "wl", "type": "quantitative"}}
        }
      ]
    },
    {
      "width": 491, "height": 307,
      "title": {"text": "tB: 7.68  tM: 7.89  tE: 8.03", "offset": 27},
      "data": {"name": "chromB"},
      "mark": {"type": "line", "color": "#000", "strokeWidth": 1.1, "clip": true},
      "encoding": {
        "x": {"field": "t", "type": "quantitative", "scale": {"domain": [-1.584, 41.184], "nice": false, "zero": false},
              "axis": {"title": "time", "values": [0, 10, 20, 30, 40], "titleY": 60}},
        "y": {"field": "au", "type": "quantitative", "scale": {"domain": [-3.43, 7.29], "nice": false, "zero": false},
              "axis": {"title": "AU", "values": [-2, 0, 2, 4, 6], "titleX": -48.5, "titleY": 183}}
      }
    },
    {
      "width": 491, "height": 307,
      "title": {"text": "Pyrimethamine", "offset": 27},
      "layer": [
        {
          "data": {"name": "pyrimethamine"},
          "mark": {"type": "line", "color": "#222", "strokeWidth": 1.1, "clip": true},
          "encoding": {
            "x": {"field": "wl", "type": "quantitative", "scale": {"domain": [180.1, 408.8], "nice": false, "zero": false},
                  "axis": {"title": "wavelength", "values": [200, 250, 300, 350, 400], "titleY": 60}},
            "y": {"field": "au", "type": "quantitative", "scale": {"domain": [-1.36, 15.61], "nice": false, "zero": false},
                  "axis": {"title": "AU", "values": [0, 5, 10, 15], "titleX": -51.5, "titleY": 183}}
          }
        },
        {
          "data": {"name": "marker"},
          "mark": {"type": "rule", "color": "#5a5aa6", "strokeWidth": 1.5},
          "encoding": {"x": {"field": "wl", "type": "quantitative"}}
        }
      ]
    }
  ],
  "config": {
    "view": {"stroke": "#333", "strokeWidth": 1.3},
    "axis": {"grid": false, "domain": false, "ticks": true, "tickSize": 7, "tickColor": "#333", "tickWidth": 1,
             "labelFont": "Liberation Sans", "labelFontSize": 11, "labelColor": "#333", "labelFlush": false, "labelOverlap": false,
             "titleFont": "Lato", "titleFontSize": 22, "titleFontWeight": "normal", "titleColor": "#222"},
    "axisX": {"labelBaseline": "middle", "labelPadding": 15, "titleBaseline": "middle", "titleAnchor": "middle"},
    "axisY": {"labelAngle": 270, "labelAlign": "center", "labelBaseline": "middle", "labelPadding": 11,
              "titleAngle": 270, "titleBaseline": "middle", "titleAlign": "center"},
    "title": {"font": "Lato", "fontSize": 24, "fontWeight": "normal", "color": "#111", "anchor": "middle"}
  }
}
